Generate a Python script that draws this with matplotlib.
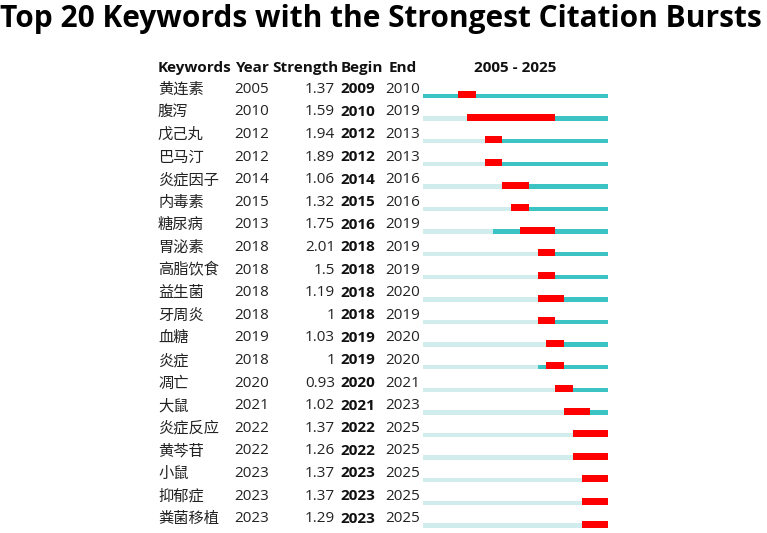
import matplotlib
matplotlib.use("Agg")
import matplotlib.pyplot as plt
import matplotlib.transforms as mtransforms

keywords = ["黄连素", "腹泻", "戊己丸", "巴马汀", "炎症因子", "内毒素", "糖尿病", "胃泌素",
            "高脂饮食", "益生菌", "牙周炎", "血糖", "炎症", "凋亡", "大鼠", "炎症反应",
            "黄芩苷", "小鼠", "抑郁症", "粪菌移植"]
years = [2005, 2010, 2012, 2012, 2014, 2015, 2013, 2018, 2018, 2018, 2018, 2019, 2018,
         2020, 2021, 2022, 2022, 2023, 2023, 2023]
strength = [1.37, 1.59, 1.94, 1.89, 1.06, 1.32, 1.75, 2.01, 1.5, 1.19, 1, 1.03, 1,
            0.93, 1.02, 1.37, 1.26, 1.37, 1.37, 1.29]
begin = [2009, 2010, 2012, 2012, 2014, 2015, 2016, 2018, 2018, 2018, 2018, 2019, 2019,
         2020, 2021, 2022, 2022, 2023, 2023, 2023]
end = [2010, 2019, 2013, 2013, 2016, 2016, 2019, 2019, 2019, 2020, 2019, 2020, 2020,
       2021, 2023, 2025, 2025, 2025, 2025, 2025]
headers = ["Keywords", "Year", "Strength", "Begin", "End"]
start_year, end_year = 2005, 2025
title = "Top 20 Keywords with the Strongest Citation Bursts"

W, H = 767, 533
fig = plt.figure(figsize=(W / 100, H / 100), dpi=100)
fam = ["Open Sans", "Noto Sans CJK SC", "DejaVu Sans"]
cjk = ["Noto Sans CJK SC", "DejaVu Sans"]

row_px = 22.6
first_bar_px = 96.0
ylo = (H - first_bar_px) / row_px
yhi = (0 - first_bar_px) / row_px

ax = fig.add_axes([423 / W, 0, 185 / W, 1])
ax.set_xlim(start_year, end_year + 1)
ax.set_ylim(ylo, yhi)
ax.axis("off")

light = "#D0ECEC"
teal = "#3CC4C4"
red = "#FF0000"
n = len(keywords)
rows = list(range(n))
th, rh = 0.20, 0.31
for i in rows:
    ax.barh(i, years[i] - start_year, left=start_year, height=th, color=light, linewidth=0)
    ax.barh(i, end_year + 1 - years[i], left=years[i], height=th, color=teal, linewidth=0)
    ax.barh(i + th / 2 - rh / 2, end[i] + 1 - begin[i], left=begin[i], height=rh, color=red, linewidth=0)

tr = mtransforms.blended_transform_factory(fig.transFigure, ax.transData)
fs = 11
text_off = -0.30
for i in rows:
    y = i + text_off
    ax.text(158 / W, y, keywords[i], transform=tr, fontsize=fs, family=cjk, va="center", ha="left", color="#222222")
    ax.text(234 / W, y, str(years[i]), transform=tr, fontsize=fs, family=fam, va="center", ha="left", color="#222222")
    ax.text(335 / W, y, f"{strength[i]:g}", transform=tr, fontsize=fs, family=fam, va="center", ha="right", color="#222222")
    ax.text(340.5 / W, y, str(begin[i]), transform=tr, fontsize=fs, family=fam, va="center", ha="left", weight="bold", color="#111111")
    ax.text(385.5 / W, y, str(end[i]), transform=tr, fontsize=fs, family=fam, va="center", ha="left", color="#222222")

hy = (68 - first_bar_px) / row_px
hx = [158, 236, 272, 341, 389]
for x, h in zip(hx, headers):
    ax.text(x / W, hy, h, transform=tr, fontsize=fs, family=fam, va="center", ha="left", weight="bold", color="#111111")
ax.text(515.5 / W, hy, f"{start_year} - {end_year}", transform=tr, fontsize=fs, family=fam,
        va="center", ha="center", weight="bold", color="#111111")

fig.text(381 / W, 1 - 19 / H, title, fontsize=21.5, family=fam, weight="bold", ha="center", va="center", color="#000000")

fig.savefig("out.png", dpi=100, facecolor="white")
